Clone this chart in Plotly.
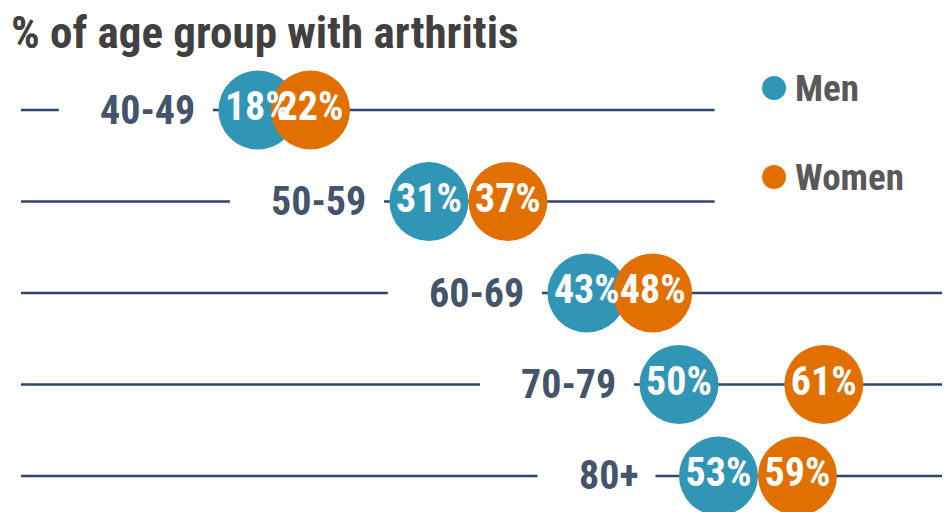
import plotly.graph_objects as go

age_groups = ["40-49", "50-59", "60-69", "70-79", "80+"]
men = [18, 31, 43, 50, 53]
women = [22, 37, 48, 61, 59]
series_names = ["Men", "Women"]
title_text = "% of age group with arthritis"

MEN_C = "#3195B6"
WOMEN_C = "#E17000"
LINE_C = "#2E4570"
LABEL_C = "#44546A"
FONT = "Roboto Condensed, Open Sans Condensed, sans-serif"

W, H = 950, 512
OFF = 8  # page body margin
PX_PER_UNIT = 13.16

fig = go.Figure()
ys = list(range(len(age_groups)))

# row lines with a gap behind the label
for i, (g, m) in enumerate(zip(age_groups, men)):
    end = 52.7 if i < 2 else 70
    centre = m - 8.36
    half_w = 9 * len(g)
    gap_l = centre - (half_w + 44) / PX_PER_UNIT
    gap_r = centre + (half_w + 20) / PX_PER_UNIT
    fig.add_trace(go.Scatter(x=[0, gap_l], y=[i, i], mode="lines",
                             line=dict(color=LINE_C, width=2.6),
                             hoverinfo="skip", showlegend=False))
    fig.add_trace(go.Scatter(x=[gap_r, end], y=[i, i], mode="lines",
                             line=dict(color=LINE_C, width=2.6),
                             hoverinfo="skip", showlegend=False))

fig.add_trace(go.Scatter(x=men, y=ys, mode="markers", name=series_names[0],
                         marker=dict(size=79, color=MEN_C), showlegend=False))
fig.add_trace(go.Scatter(x=women, y=ys, mode="markers", name=series_names[1],
                         marker=dict(size=79, color=WOMEN_C), showlegend=False))
for vals in (men, women):
    fig.add_trace(go.Scatter(x=vals, y=ys, mode="text",
                             text=[f"{v}%" for v in vals],
                             textposition="middle center",
                             textfont=dict(family=FONT, size=40, color="white", weight="bold"),
                             hoverinfo="skip", showlegend=False))

# row labels
for i, (g, m) in enumerate(zip(age_groups, men)):
    fig.add_annotation(x=m - 8.36, y=i, text=f"<b>{g}</b>", showarrow=False,
                       xanchor="center", yanchor="middle",
                       font=dict(family=FONT, size=40, color=LABEL_C))

# legend (manual)
for name, col, ypx in zip(series_names, [MEN_C, WOMEN_C], [88, 177]):
    yp = ypx - OFF
    fig.add_shape(type="circle", xref="paper", yref="paper",
                  x0=(762 - OFF) / W, x1=(786 - OFF) / W,
                  y0=1 - (yp + 12) / H, y1=1 - (yp - 12) / H,
                  fillcolor=col, line=dict(width=0))
    fig.add_annotation(xref="paper", yref="paper", x=(793 - OFF) / W, y=1 - yp / H,
                       text=f"<b>{name}</b>", showarrow=False,
                       xanchor="left", yanchor="middle",
                       font=dict(family=FONT, size=37, color="#595959"))

fig.add_annotation(xref="paper", yref="paper", x=(9 - OFF) / W, y=1 - (32 - OFF) / H,
                   text=f"<b>{title_text}</b>", showarrow=False,
                   xanchor="left", yanchor="middle",
                   font=dict(family=FONT, size=45, color="#404040"))

fig.update_layout(
    width=W, height=H,
    margin=dict(l=0, r=0, t=0, b=0),
    paper_bgcolor="white", plot_bgcolor="white",
    xaxis=dict(range=[-0.988, 71.2], visible=False, fixedrange=True),
    yaxis=dict(range=[4.481, -1.115], visible=False, fixedrange=True),
    showlegend=False,
)

fig.write_html("out.html")
